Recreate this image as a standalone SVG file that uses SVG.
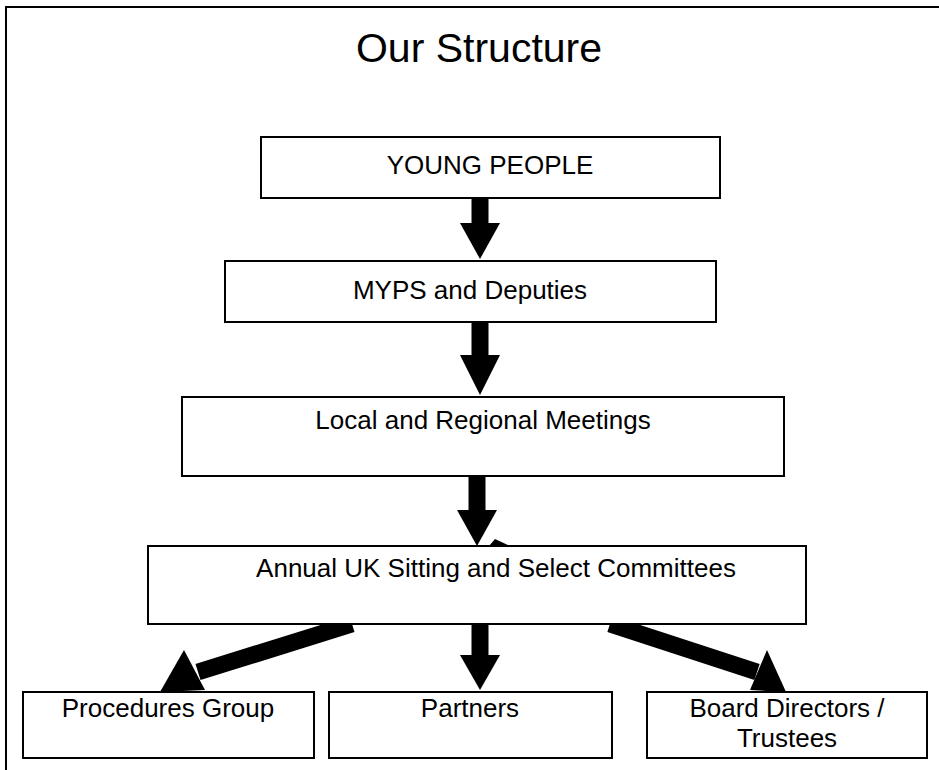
<svg xmlns="http://www.w3.org/2000/svg" width="939" height="770" viewBox="0 0 939 770">
<style>
.frame{stroke:#000;stroke-width:2;fill:none}
.box{fill:#fff;stroke:#000;stroke-width:2}
.t{font-family:"Liberation Sans",Arial,sans-serif;font-size:26px;fill:#000;text-anchor:middle}
.title{font-family:"Liberation Sans",Arial,sans-serif;font-size:41px;fill:#000;text-anchor:middle}
.shaft{stroke:#000;stroke-width:17;fill:none}
.head{fill:#000}
</style>
<rect width="939" height="770" fill="#fff"/>
<path class="frame" d="M6,770 V7 H939"/>
<text class="title" x="479" y="62">Our Structure</text>
<g id="connectors">
  <line class="shaft" x1="480" y1="198" x2="480" y2="224"/>
  <polygon class="head" points="460,223 500,223 480,259"/>
  <line class="shaft" x1="480" y1="322" x2="480" y2="356"/>
  <polygon class="head" points="460,355 500,355 480,395"/>
  <line class="shaft" x1="477" y1="476" x2="477" y2="511"/>
  <polygon class="head" points="457,510 497,510 477,546"/>
  <polygon class="head" points="489,546 495,539 510,546"/>
  <line class="shaft" x1="352" y1="624" x2="198" y2="672"/>
  <polygon class="head" points="160,692 184,650 205,690"/>
  <line class="shaft" x1="480" y1="624" x2="480" y2="656"/>
  <polygon class="head" points="460,655 500,655 480,690"/>
  <line class="shaft" x1="610" y1="624" x2="757" y2="672"/>
  <polygon class="head" points="786,692 767,650 750,690"/>
</g>
<g id="young-people">
  <rect class="box" x="261" y="137" width="459" height="61"/>
  <text class="t" x="490" y="174">YOUNG PEOPLE</text>
</g>
<g id="myps">
  <rect class="box" x="225" y="261" width="491" height="61"/>
  <text class="t" x="470" y="299">MYPS and Deputies</text>
</g>
<g id="local">
  <rect class="box" x="182" y="397" width="602" height="79"/>
  <text class="t" x="483" y="429">Local and Regional Meetings</text>
</g>
<g id="annual">
  <rect class="box" x="148" y="546" width="658" height="78"/>
  <text class="t" x="496" y="577">Annual UK Sitting and Select Committees</text>
</g>
<g id="procedures">
  <rect class="box" x="23" y="692" width="291" height="66"/>
  <text class="t" x="168" y="717">Procedures Group</text>
</g>
<g id="partners">
  <rect class="box" x="329" y="692" width="283" height="66"/>
  <text class="t" x="470" y="717">Partners</text>
</g>
<g id="board">
  <rect class="box" x="647" y="692" width="280" height="66"/>
  <text class="t" x="787" y="717">Board Directors /</text>
  <text class="t" x="787" y="747">Trustees</text>
</g>
</svg>
